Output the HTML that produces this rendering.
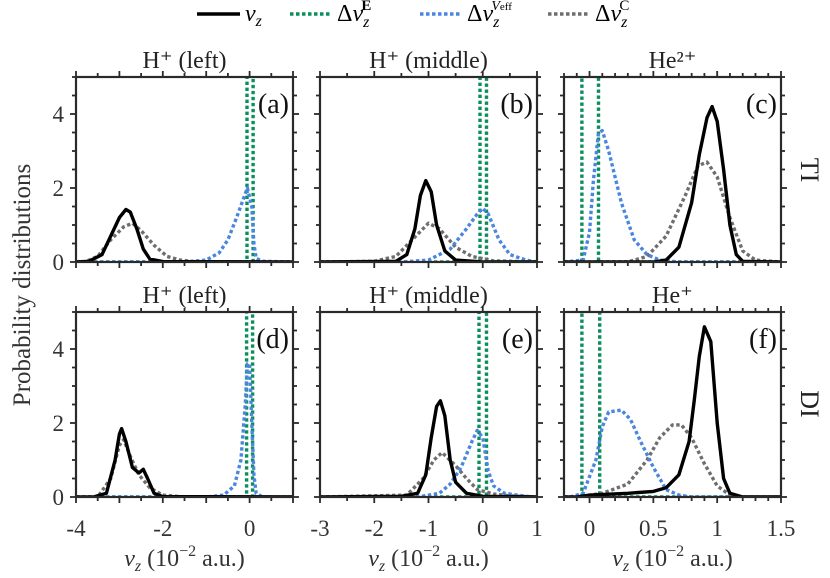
<!DOCTYPE html>
<html><head><meta charset="utf-8"><style>
body{margin:0;background:#fff;width:830px;height:578px;overflow:hidden}
svg{display:block;font-family:"Liberation Serif",serif}
</style></head><body>
<svg id="fig" width="830" height="578" xmlns="http://www.w3.org/2000/svg">
<g font-size="24">
  <line x1="197" y1="14" x2="240" y2="14" stroke="#000" stroke-width="3.5"/>
  <text x="245" y="21" font-style="italic">v<tspan font-size="16" dy="5">z</tspan></text>
  <line x1="290" y1="14" x2="332" y2="14" stroke="#0a8f5c" stroke-width="3.5" stroke-dasharray="3.5 2.5"/>
  <text x="337" y="21">Δ<tspan font-style="italic">v</tspan><tspan font-size="16" dy="6" font-style="italic">z</tspan><tspan font-size="15" dy="-17" dx="-8" font-weight="bold">E</tspan></text>
  <line x1="420" y1="14" x2="462" y2="14" stroke="#4a86e0" stroke-width="3.5" stroke-dasharray="3.5 2.5"/>
  <text x="467" y="21">Δ<tspan font-style="italic">v</tspan><tspan font-size="16" dy="6" font-style="italic">z</tspan><tspan font-size="14" dy="-17" dx="-8" font-style="italic">V</tspan><tspan font-size="11">eff</tspan></text>
  <line x1="548" y1="14" x2="590" y2="14" stroke="#6e6e6e" stroke-width="3.5" stroke-dasharray="3.5 2.5"/>
  <text x="595" y="21">Δ<tspan font-style="italic">v</tspan><tspan font-size="16" dy="6" font-style="italic">z</tspan><tspan font-size="15" dy="-17" dx="-8">C</tspan></text>
</g>
<text transform="translate(30,285) rotate(-90)" text-anchor="middle" font-size="25" fill="#333">Probability distributions</text>
<text transform="translate(801,170) rotate(90)" text-anchor="middle" font-size="26" fill="#222">TI</text>
<text transform="translate(801,404) rotate(90)" text-anchor="middle" font-size="26" fill="#222">DI</text>
</svg>
<script>
// ---- data ----
const panelTitles = ["H\u207A (left)","H\u207A (middle)","He\u00B2\u207A","H\u207A (left)","H\u207A (middle)","He\u207A"];
const panelLetters = ["(a)","(b)","(c)","(d)","(e)","(f)"];
const xDomains = [[-4,1],[-3,1],[-0.2,1.5],[-4,1],[-3,1],[-0.2,1.5]];
const xTickLabels = [[-4,-2,0],[-3,-2,-1,0,1],[0,0.5,1,1.5]];
const yTicks = [0,2,4];
const greenEdges = [[-0.06,0.08],[-0.05,0.07],[-0.06,0.07],[-0.07,0.07],[-0.07,0.07],[-0.06,0.08]];
const vzX = [
 [-4,-3.7,-3.4,-3.2,-3.0,-2.85,-2.75,-2.6,-2.45,-2.3,-2.0,1],
 [-3,-1.6,-1.4,-1.25,-1.15,-1.05,-0.95,-0.85,-0.7,-0.5,0,1],
 [-0.2,0.5,0.6,0.7,0.8,0.86,0.92,0.96,1.0,1.05,1.1,1.15,1.2,1.5],
 [-4,-3.6,-3.3,-3.1,-3.0,-2.95,-2.85,-2.7,-2.55,-2.45,-2.35,-2.2,-2.0,1],
 [-3,-1.5,-1.2,-1.05,-0.95,-0.85,-0.78,-0.7,-0.6,-0.5,-0.3,0,1],
 [-0.2,-0.1,0,0.3,0.5,0.6,0.7,0.78,0.82,0.86,0.9,0.95,1.0,1.05,1.1,1.2,1.5]];
const vzY = [
 [0,0.02,0.2,0.7,1.2,1.42,1.35,0.9,0.35,0.08,0.01,0],
 [0,0.02,0.2,0.9,1.8,2.2,1.9,1.0,0.3,0.05,0,0],
 [0,0,0.05,0.4,1.6,2.9,3.9,4.2,3.8,2.5,1.0,0.2,0.02,0],
 [0,0,0.1,1.0,1.7,1.85,1.5,0.8,0.65,0.75,0.5,0.1,0.01,0],
 [0,0.02,0.1,0.6,1.6,2.45,2.6,2.2,1.0,0.4,0.1,0.02,0],
 [0,0,0.05,0.1,0.15,0.25,0.6,1.5,2.6,3.8,4.6,4.2,2.0,0.5,0.1,0,0]];
const cX = [
 [-4,-3.8,-3.5,-3.2,-2.9,-2.7,-2.5,-2.2,-1.9,-1.6,-1.2,1],
 [-3,-2,-1.6,-1.3,-1.0,-0.8,-0.5,-0.2,0.2,1],
 [-0.2,0.3,0.45,0.6,0.75,0.85,0.92,1.0,1.1,1.2,1.3,1.5],
 [-4,-3.5,-3.2,-3.0,-2.9,-2.75,-2.55,-2.3,-2.0,-1.5,1],
 [-3,-1.4,-1.1,-0.9,-0.75,-0.5,-0.3,-0.1,0.2,0.5,1],
 [-0.2,-0.1,0.1,0.3,0.45,0.55,0.65,0.72,0.8,0.9,1.0,1.1,1.2,1.5]];
const cY = [
 [0,0,0.15,0.6,0.95,1.05,0.85,0.45,0.15,0.05,0,0],
 [0,0.02,0.15,0.6,1.05,0.9,0.4,0.15,0.03,0],
 [0,0,0.15,0.7,1.8,2.6,2.7,2.3,1.2,0.3,0.05,0],
 [0,0,0.5,1.4,1.55,1.1,0.6,0.25,0.05,0,0],
 [0,0.05,0.5,1.0,1.2,0.85,0.5,0.2,0.08,0.03,0],
 [0,0,0.1,0.35,1.0,1.6,1.95,1.95,1.6,0.9,0.3,0.05,0,0]];
const veX = [
 [-4,-1.5,-1.0,-0.7,-0.5,-0.3,-0.1,-0.05,0.05,0.1,0.15,0.3,1],
 [-3,-1.5,-1.0,-0.6,-0.3,-0.1,0,0.1,0.3,0.5,0.8,1],
 [-0.2,-0.05,0,0.03,0.07,0.1,0.15,0.25,0.35,0.45,0.55,0.7,1.5],
 [-4,-1,-0.6,-0.35,-0.2,-0.1,-0.05,0,0.05,0.1,0.15,0.3,1],
 [-3,-1.2,-0.8,-0.6,-0.4,-0.2,-0.1,0,0.1,0.2,0.4,0.8,1],
 [-0.2,-0.15,-0.05,0.05,0.1,0.15,0.25,0.32,0.4,0.5,0.6,0.7,0.8,1.5]];
const veY = [
 [0,0,0.05,0.25,0.6,1.2,1.85,2.0,1.5,0.5,0.1,0.02,0],
 [0,0,0.05,0.35,0.9,1.3,1.45,1.3,0.6,0.2,0.05,0],
 [0,0.05,0.8,2.2,3.5,3.55,3.0,1.6,0.6,0.2,0.05,0,0],
 [0,0,0.05,0.3,1.0,2.5,3.6,3.6,2.0,0.6,0.1,0,0],
 [0,0,0.1,0.35,0.8,1.5,1.8,1.6,0.7,0.3,0.1,0.02,0],
 [0,0,0.1,1.0,1.9,2.3,2.35,2.1,1.5,0.8,0.2,0.05,0,0]];
// ---- layout ----
const NS="http://www.w3.org/2000/svg";
const svg=document.getElementById('fig');
const colL=[76,320,564], W=217, rowT=[77,312], H=185, YMAX=5;
function mk(tag,attrs,parent){const e=document.createElementNS(NS,tag);for(const k in attrs)e.setAttribute(k,attrs[k]);(parent||svg).appendChild(e);return e;}
for(let p=0;p<6;p++){
  const r=Math.floor(p/3), c=p%3, L=colL[c], T=rowT[r], B=T+H, R=L+W;
  const [x0,x1]=xDomains[p];
  const sx=v=>L+(v-x0)/(x1-x0)*W, sy=v=>B-v/YMAX*H;
  const g=mk('g',{});
  
  
  const cid='clip'+p;
  const cp=mk('clipPath',{id:cid},g); mk('rect',{x:L,y:T,width:W,height:H},cp);
  const plot=mk('g',{'clip-path':'url(#'+cid+')'},g);
  const line=(xs,ys,col,dash,name)=>{
    const d=xs.map((x,i)=>(i?'L':'M')+sx(x).toFixed(1)+','+sy(ys[i]).toFixed(1)).join('');
    const a={d:d,fill:'none',stroke:col,'stroke-width':3.4,'stroke-linejoin':'round'};
    if(dash)a['stroke-dasharray']='3.4 2.6';
    const e=mk('path',a,plot);
    
    
  };
  const ge=greenEdges[p];
  line([x0,ge[0],ge[0],ge[1],ge[1],x1],[0,0,6,6,0,0],'#0a8f5c',true,'series-delta-vz-e');
  line(cX[p],cY[p],'#6e6e6e',true,'series-delta-vz-c');
  line(veX[p],veY[p],'#4a86e0',true,'series-delta-vz-veff');
  line(vzX[p],vzY[p],'#000',false,'series-vz');
  mk('rect',{x:L,y:T,width:W,height:H,fill:'none',stroke:'#2a2a2a','stroke-width':2.2},g);
  for(let k=0;k<=10;k++){const v=k*0.5,y=sy(v),len=(k%4===0)?6:4;
    mk('line',{x1:L-len,y1:y,x2:L,y2:y,stroke:'#2a2a2a','stroke-width':1.8},g);
    mk('line',{x1:R,y1:y,x2:R+len,y2:y,stroke:'#2a2a2a','stroke-width':1.8},g);}
  const step=(x1-x0)>3?0.5:0.1;
  for(let v=Math.ceil(x0/step)*step; v<=x1+1e-9; v+=step){const x=sx(v);
    const m=step*((x1-x0)>3?2:5);
    const major=Math.abs(v/m-Math.round(v/m))<1e-6;
    const len=major?6:4;
    mk('line',{x1:x,y1:B,x2:x,y2:B+len,stroke:'#2a2a2a','stroke-width':1.8},g);
    mk('line',{x1:x,y1:T-len,x2:x,y2:T,stroke:'#2a2a2a','stroke-width':1.8},g);}
  if(c===0){ for(const v of yTicks){const t=mk('text',{x:L-12,y:sy(v)+8,'text-anchor':'end','font-size':23,fill:'#333'},g);t.textContent=v;
      }}
  if(r===1){ for(const v of xTickLabels[c]){const t=mk('text',{x:sx(v),y:B+39,'text-anchor':'middle','font-size':23,fill:'#333'},g);t.textContent=v;
      }
    const xt=mk('text',{x:L+W/2,y:B+69,'text-anchor':'middle','font-size':24,fill:'#333'},g);
    
    xt.innerHTML='<tspan font-style="italic">v</tspan><tspan font-size="16" dy="5" font-style="italic">z</tspan><tspan dy="-5"> (10</tspan><tspan font-size="16" dy="-10">−2</tspan><tspan dy="10"> a.u.)</tspan>';}
  const tt=mk('text',{x:L+W/2,y:T-9,'text-anchor':'middle','font-size':24,fill:'#222'},g);tt.textContent=panelTitles[p];
  
  const lt=mk('text',{x:R-4,y:T+36,'text-anchor':'end','font-size':28,fill:'#111'},g);lt.textContent=panelLetters[p];
  
}
</script>
</body></html>
